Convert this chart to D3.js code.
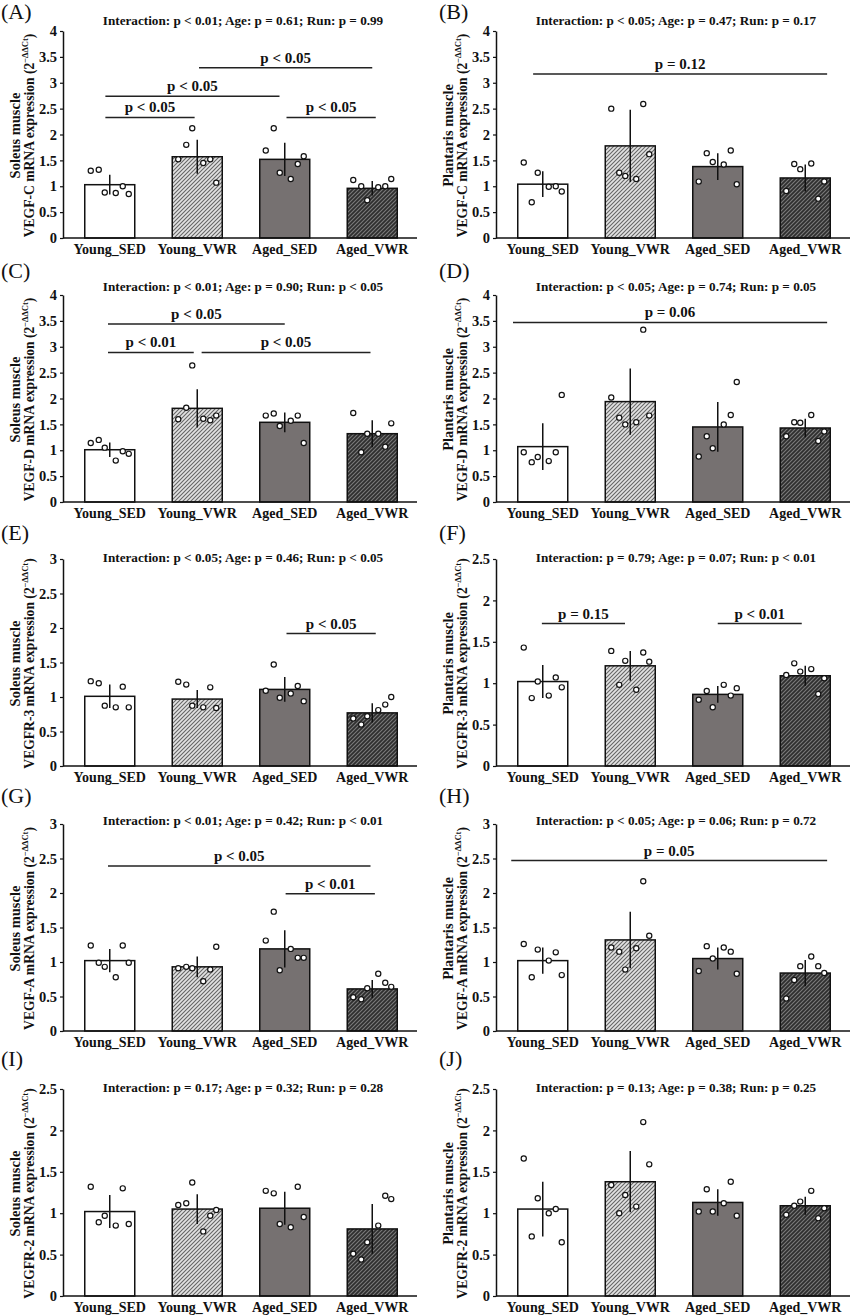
<!DOCTYPE html>
<html><head><meta charset="utf-8">
<script src="https://cdn.jsdelivr.net/npm/d3@7"></script>
<style>
body{margin:0;background:#fff}
svg{display:block}
text{font-family:"Liberation Serif","Times New Roman",serif;fill:#111}
</style>
</head><body>
<svg id="chart" width="851" height="1315"></svg>
<script>
// ---------------- DATA ----------------
const categories = ["Young_SED", "Young_VWR", "Aged_SED", "Aged_VWR"];
const panelIds = ["A", "B", "C", "D", "E", "F", "G", "H", "I", "J"];
const muscles = ["Soleus muscle", "Plantaris muscle", "Soleus muscle", "Plantaris muscle", "Soleus muscle",
  "Plantaris muscle", "Soleus muscle", "Plantaris muscle", "Soleus muscle", "Plantaris muscle"];
const genes = ["VEGF-C", "VEGF-C", "VEGF-D", "VEGF-D", "VEGFR-3", "VEGFR-3", "VEGF-A", "VEGF-A", "VEGFR-2", "VEGFR-2"];
const statsText = [
  "Interaction: p < 0.01; Age: p = 0.61; Run: p = 0.99",
  "Interaction: p < 0.05; Age: p = 0.47; Run: p = 0.17",
  "Interaction: p < 0.01; Age: p = 0.90; Run: p < 0.05",
  "Interaction: p < 0.05; Age: p = 0.74; Run: p = 0.05",
  "Interaction: p < 0.05; Age: p = 0.46; Run: p < 0.05",
  "Interaction: p = 0.79; Age: p = 0.07; Run: p < 0.01",
  "Interaction: p < 0.01; Age: p = 0.42; Run: p < 0.01",
  "Interaction: p < 0.05; Age: p = 0.06; Run: p = 0.72",
  "Interaction: p = 0.17; Age: p = 0.32; Run: p = 0.28",
  "Interaction: p = 0.13; Age: p = 0.38; Run: p = 0.25"
];
const yMaxes = [4, 4, 4, 4, 3, 2.5, 3, 3, 2.5, 2.5];
const yTickStep = 0.5;

const barMeans = [
  [1.03, 1.57, 1.52, 0.96],
  [1.04, 1.78, 1.38, 1.16],
  [1.01, 1.81, 1.54, 1.32],
  [1.07, 1.94, 1.45, 1.43],
  [1.01, 0.97, 1.11, 0.77],
  [1.02, 1.21, 0.865, 1.09],
  [1.02, 0.93, 1.19, 0.61],
  [1.02, 1.32, 1.05, 0.84],
  [1.02, 1.05, 1.06, 0.81],
  [1.05, 1.38, 1.13, 1.09]
];
const barErrors = [
  [0.19, 0.33, 0.32, 0.14],
  [0.25, 0.70, 0.26, 0.26],
  [0.14, 0.37, 0.19, 0.26],
  [0.45, 0.64, 0.48, 0.18],
  [0.17, 0.13, 0.18, 0.14],
  [0.20, 0.18, 0.10, 0.12],
  [0.17, 0.15, 0.27, 0.13],
  [0.19, 0.41, 0.16, 0.19],
  [0.20, 0.18, 0.20, 0.30],
  [0.33, 0.37, 0.16, 0.11]
];
const pointValues = [
  [[1.30,1.32,0.88,0.87,1.00,0.85],[1.52,1.80,2.12,1.45,1.52,1.07],[1.69,2.12,1.26,1.14,1.43,1.58],[1.12,1.00,0.73,0.98,1.00,1.14]],
  [[1.46,0.69,1.26,0.99,1.00,0.90],[2.50,1.26,1.20,1.14,2.59,1.62],[1.09,1.64,1.47,1.42,1.69,1.04],[0.91,1.43,1.33,1.44,0.76,1.09]],
  [[1.14,1.20,1.05,0.80,0.98,0.93],[1.60,1.82,2.64,1.61,1.58,1.67],[1.67,1.71,1.47,1.57,1.67,1.14],[1.72,0.96,1.32,1.32,1.07,1.52]],
  [[0.96,0.77,0.87,0.79,0.96,2.07],[2.02,1.63,1.50,1.54,3.33,1.67],[0.88,1.27,1.04,1.50,1.68,2.32],[1.27,1.54,1.53,1.68,1.18,1.36]],
  [[1.23,1.20,0.875,0.85,1.15,0.85],[1.22,1.18,0.875,0.85,1.14,0.84],[1.09,1.47,0.99,1.05,1.16,0.94],[0.69,0.60,0.72,0.81,0.89,1.00]],
  [[1.43,0.82,1.02,0.85,1.07,0.95],[1.39,0.98,1.27,0.92,1.37,1.26],[0.80,0.905,0.71,0.98,0.85,0.94],[1.10,1.24,1.14,1.17,0.87,1.06]],
  [[1.24,0.99,0.93,0.78,1.24,0.99],[0.91,0.93,0.91,0.72,0.89,1.22],[1.31,1.73,0.88,1.19,1.06,1.06],[0.49,0.46,0.62,0.83,0.70,0.64]],
  [[1.26,0.78,1.18,1.02,1.14,0.81],[1.21,1.15,0.89,1.20,2.17,1.38],[0.87,1.23,1.05,1.21,1.15,0.83],[0.47,0.74,0.94,1.08,0.94,0.84]],
  [[1.32,0.89,0.97,0.85,1.30,0.87],[1.10,1.12,1.37,0.78,0.97,1.04],[1.27,1.24,0.87,0.83,1.32,0.955],[0.51,0.44,0.65,0.85,1.21,1.17]],
  [[1.66,0.72,1.18,1.00,1.05,0.65],[1.34,1.00,1.22,1.08,2.10,1.59],[1.02,1.29,1.02,1.12,1.38,0.97],[0.98,1.09,1.14,1.27,0.94,1.06]]
];
// comparisons: [from group index, to group index, y value, label]
const comparisons = [
  [[-0.05, 0.97, 2.33, "p < 0.05"], [-0.05, 1.94, 2.74, "p < 0.05"], [1.02, 3.0, 3.29, "p < 0.05"], [2.02, 3.04, 2.33, "p < 0.05"]],
  [[-0.11, 3.25, 3.17, "p = 0.12"]],
  [[-0.02, 2.0, 3.44, "p < 0.05"], [-0.02, 0.96, 2.89, "p < 0.01"], [1.05, 2.98, 2.89, "p < 0.05"]],
  [[-0.34, 3.25, 3.47, "p = 0.06"]],
  [[2.02, 3.04, 1.92, "p < 0.05"]],
  [[-0.01, 0.94, 1.72, "p = 0.15"], [2.0, 2.96, 1.72, "p < 0.01"]],
  [[-0.02, 2.98, 2.39, "p < 0.05"], [2.01, 3.03, 1.99, "p < 0.01"]],
  [[-0.36, 3.25, 2.47, "p = 0.05"]],
  [],
  []
];

// ---------------- STYLE / LAYOUT ----------------
const groupFills = ["#ffffff", "url(#hatchLight)", "#767171", "url(#hatchDark)"];
const dotOffsets = [-0.38, -0.22, -0.1, 0.12, 0.26, 0.38];
const colAxisX = [63, 496];
const rowTop = [31, 295, 559, 824, 1089];
const rowTitleY = [25, 291, 562, 825, 1092];
const rowLabelY = [19, 278, 540, 803, 1066];
const colLabelX = [1, 439];
const plotH = 207;
const axisLen = 354;

const svg = d3.select("#chart");
const defs = svg.append("defs");
function hatch(id, bg, fg) {
  const p = defs.append("pattern").attr("id", id).attr("patternUnits", "userSpaceOnUse")
    .attr("width", 4).attr("height", 4);
  p.append("rect").attr("width", 4).attr("height", 4).attr("fill", bg);
  p.append("path").attr("d", "M-1,1 l2,-2 M0,4 l4,-4 M3,5 l2,-2")
    .attr("stroke", fg).attr("stroke-width", 1.1);
}
hatch("hatchLight", "#e2e2e2", "#666666");
hatch("hatchDark", "#2e2e2e", "#7a7a7a");

panelIds.forEach((pid, k) => {
  const col = k % 2, row = Math.floor(k / 2);
  const ax = colAxisX[col];
  const top = rowTop[row];
  const bottom = top + plotH;
  const yMax = yMaxes[k];

  const y = d3.scaleLinear().domain([0, yMax]).range([bottom, top]);
  const x = d3.scaleBand().domain(categories).range([ax + 3, ax + 353])
    .paddingInner(0.4286).paddingOuter(0.2143);
  const bw = x.bandwidth();
  const c0 = x(categories[0]) + bw / 2, c3 = x(categories[3]) + bw / 2;
  const xi = d3.scaleLinear().domain([0, 3]).range([c0, c3]);

  const g = svg.append("g");

  // panel label
  g.append("text").attr("x", colLabelX[col]).attr("y", rowLabelY[row])
    .attr("font-size", 22).text("(" + pid + ")");

  // title
  g.append("text").attr("x", ax + 180).attr("y", rowTitleY[row])
    .attr("text-anchor", "middle").attr("font-size", 13.2).attr("font-weight", "bold")
    .text(statsText[k]);

  // y label
  const midY = (top + bottom) / 2 + 1;
  g.append("text").attr("transform", `translate(${ax - 43},${midY}) rotate(-90)`)
    .attr("text-anchor", "middle").attr("font-size", 14.5).attr("font-weight", "bold")
    .text(muscles[k]);
  const t2 = g.append("text").attr("transform", `translate(${ax - 29},${midY}) rotate(-90)`)
    .attr("text-anchor", "middle").attr("font-size", 13.6).attr("font-weight", "bold");
  t2.append("tspan").text(genes[k] + " mRNA expression (2");
  t2.append("tspan").attr("font-size", 8.5).attr("dy", -6).text("\u2212\u0394\u0394Ct");
  t2.append("tspan").attr("dy", 6).text(")");

  // bars
  g.selectAll("rect.bar").data(categories).join("rect")
    .attr("x", d => x(d)).attr("width", bw)
    .attr("y", (d, i) => y(barMeans[k][i]))
    .attr("height", (d, i) => y(0) - y(barMeans[k][i]))
    .attr("fill", (d, i) => groupFills[i])
    .attr("stroke", "#111").attr("stroke-width", 1.5);

  // error bars
  g.selectAll("line.err").data(categories).join("line")
    .attr("x1", d => x(d) + bw / 2).attr("x2", d => x(d) + bw / 2)
    .attr("y1", (d, i) => y(barMeans[k][i] + barErrors[k][i]))
    .attr("y2", (d, i) => y(barMeans[k][i] - barErrors[k][i]))
    .attr("stroke", "#111").attr("stroke-width", 1.5);

  // dots
  categories.forEach((cat, i) => {
    g.selectAll(null).data(pointValues[k][i]).join("circle")
      .attr("cx", (v, j) => x(cat) + bw / 2 + dotOffsets[j] * bw)
      .attr("cy", v => y(v)).attr("r", 2.6)
      .attr("fill", "#fff").attr("stroke", "#111").attr("stroke-width", 1.2);
  });

  // axes
  const yAxis = d3.axisLeft(y).tickValues(d3.range(0, yMax + 1e-9, yTickStep))
    .tickFormat(d3.format("")).tickSize(3).tickSizeOuter(0).tickPadding(3);
  const ya = g.append("g").attr("transform", `translate(${ax},0)`).call(yAxis);
  ya.select(".domain").attr("stroke", "#111").attr("stroke-width", 1.5);
  ya.selectAll(".tick line").attr("stroke", "#111").attr("stroke-width", 1.2);
  ya.selectAll(".tick text").attr("font-size", 14.5).attr("font-weight", "bold")
    .attr("font-family", "'Liberation Serif','Times New Roman',serif").attr("fill", "#111");

  g.append("line").attr("x1", ax).attr("x2", ax + axisLen).attr("y1", y(0)).attr("y2", y(0))
    .attr("stroke", "#111").attr("stroke-width", 1.5);

  g.selectAll("text.xl").data(categories).join("text")
    .attr("x", d => x(d) + bw / 2).attr("y", bottom + 16)
    .attr("text-anchor", "middle").attr("font-size", 14).attr("font-weight", "bold")
    .text(d => d);

  // comparisons
  comparisons[k].forEach(c => {
    const x1 = xi(c[0]), x2 = xi(c[1]), yy = y(c[2]);
    g.append("line").attr("x1", x1).attr("x2", x2).attr("y1", yy).attr("y2", yy)
      .attr("stroke", "#222").attr("stroke-width", 1.5);
    g.append("text").attr("x", (x1 + x2) / 2).attr("y", yy - 5)
      .attr("text-anchor", "middle").attr("font-size", 15).attr("font-weight", "bold")
      .text(c[3]);
  });
});
</script>
</body></html>
